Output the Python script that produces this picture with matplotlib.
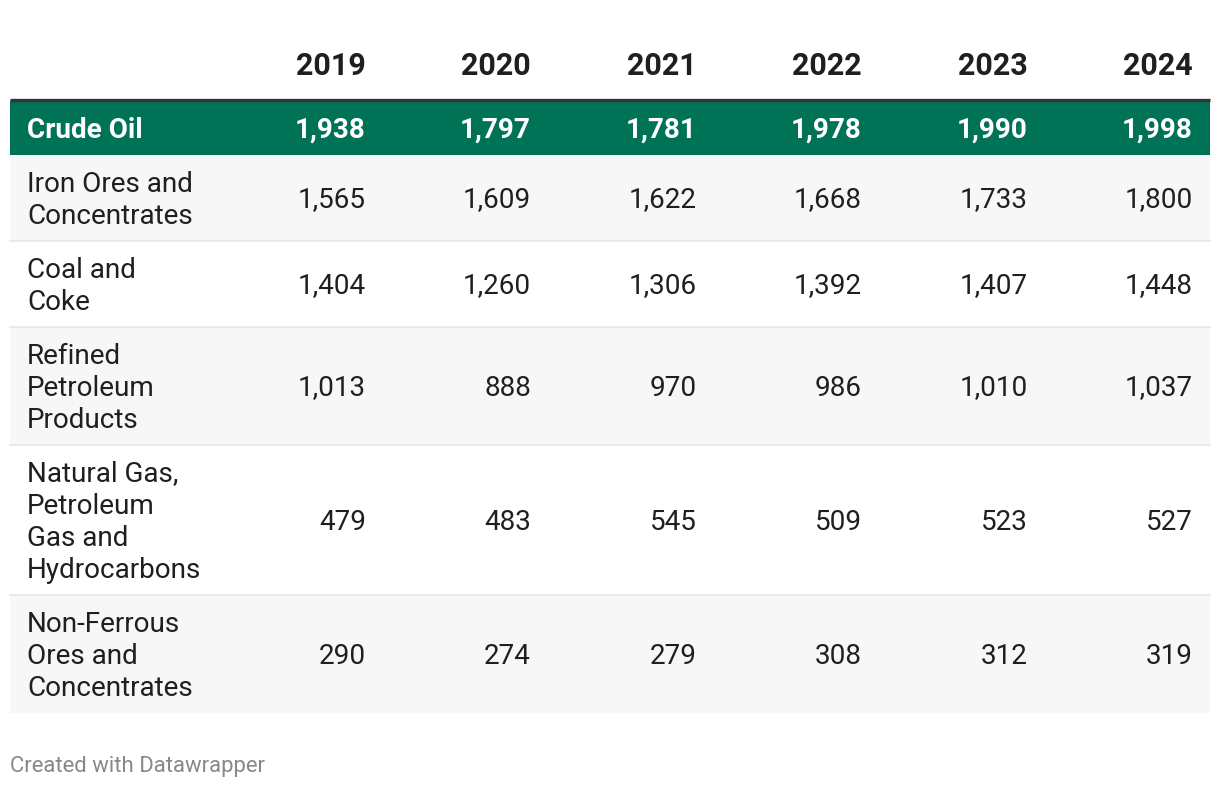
import matplotlib.pyplot as plt
from matplotlib.patches import Rectangle

# table data
years = ['2019', '2020', '2021', '2022', '2023', '2024']
labels = ['Crude Oil',
          'Iron Ores and\nConcentrates',
          'Coal and\nCoke',
          'Refined\nPetroleum\nProducts',
          'Natural Gas,\nPetroleum\nGas and\nHydrocarbons',
          'Non-Ferrous\nOres and\nConcentrates']
crude_oil = [1938, 1797, 1781, 1978, 1990, 1998]
iron_ores = [1565, 1609, 1622, 1668, 1733, 1800]
coal_coke = [1404, 1260, 1306, 1392, 1407, 1448]
refined_petroleum = [1013, 888, 970, 986, 1010, 1037]
natural_gas = [479, 483, 545, 509, 523, 527]
non_ferrous = [290, 274, 279, 308, 312, 319]
rows = [crude_oil, iron_ores, coal_coke, refined_petroleum, natural_gas, non_ferrous]

plt.rcParams['font.family'] = ['Roboto', 'DejaVu Sans']

W, H = 1220, 788
fig = plt.figure(figsize=(W / 100, H / 100), dpi=100)
ax = fig.add_axes([0, 0, 1, 1])
ax.set_xlim(0, W)
ax.set_ylim(H, 0)
ax.axis('off')

green = '#007256'
text_c = '#1f1f1f'
fs = 20.1
line_h = 32
left, right = 10, 1210
label_x = 27
col_right = [366, 531, 697, 862, 1028, 1193]

# header
for x, yr in zip(col_right, years):
    ax.text(x, 75, yr, ha='right', va='baseline', fontsize=22, fontweight='bold', color=text_c)

top = 101
for i, (lab, vals) in enumerate(zip(labels, rows)):
    lines = lab.split('\n')
    n = len(lines)
    h = 22 + line_h * n
    if i == 0:
        bg = green
    elif i % 2 == 1:
        bg = '#f7f7f7'
    else:
        bg = 'white'
    ax.add_patch(Rectangle((left, top), right - left, h, facecolor=bg, edgecolor='none'))
    if 0 < i < len(labels) - 1:
        ax.plot([left, right], [top + h, top + h], color='#e6e6e6', lw=1.2)
    center = top + h / 2
    tc = 'white' if i == 0 else text_c
    fw = 'bold' if i == 0 else 'normal'
    for j, ln in enumerate(lines):
        yc = center + (j - (n - 1) / 2) * line_h
        ax.text(label_x, yc + 9.5, ln, ha='left', va='baseline', fontsize=fs, color=tc, fontweight=fw)
    for x, v in zip(col_right, vals):
        ax.text(x, center + 9.5, f'{v:,}', ha='right', va='baseline', fontsize=fs, color=tc, fontweight=fw)
    top += h

# thick line under header
ax.plot([left, right], [99.5, 99.5], color='#333333', lw=2.4, solid_capstyle='butt')

ax.text(10, 772, 'Created with Datawrapper', ha='left', va='baseline', fontsize=15.9, color='#888888')

fig.savefig('out.png', dpi=100)
